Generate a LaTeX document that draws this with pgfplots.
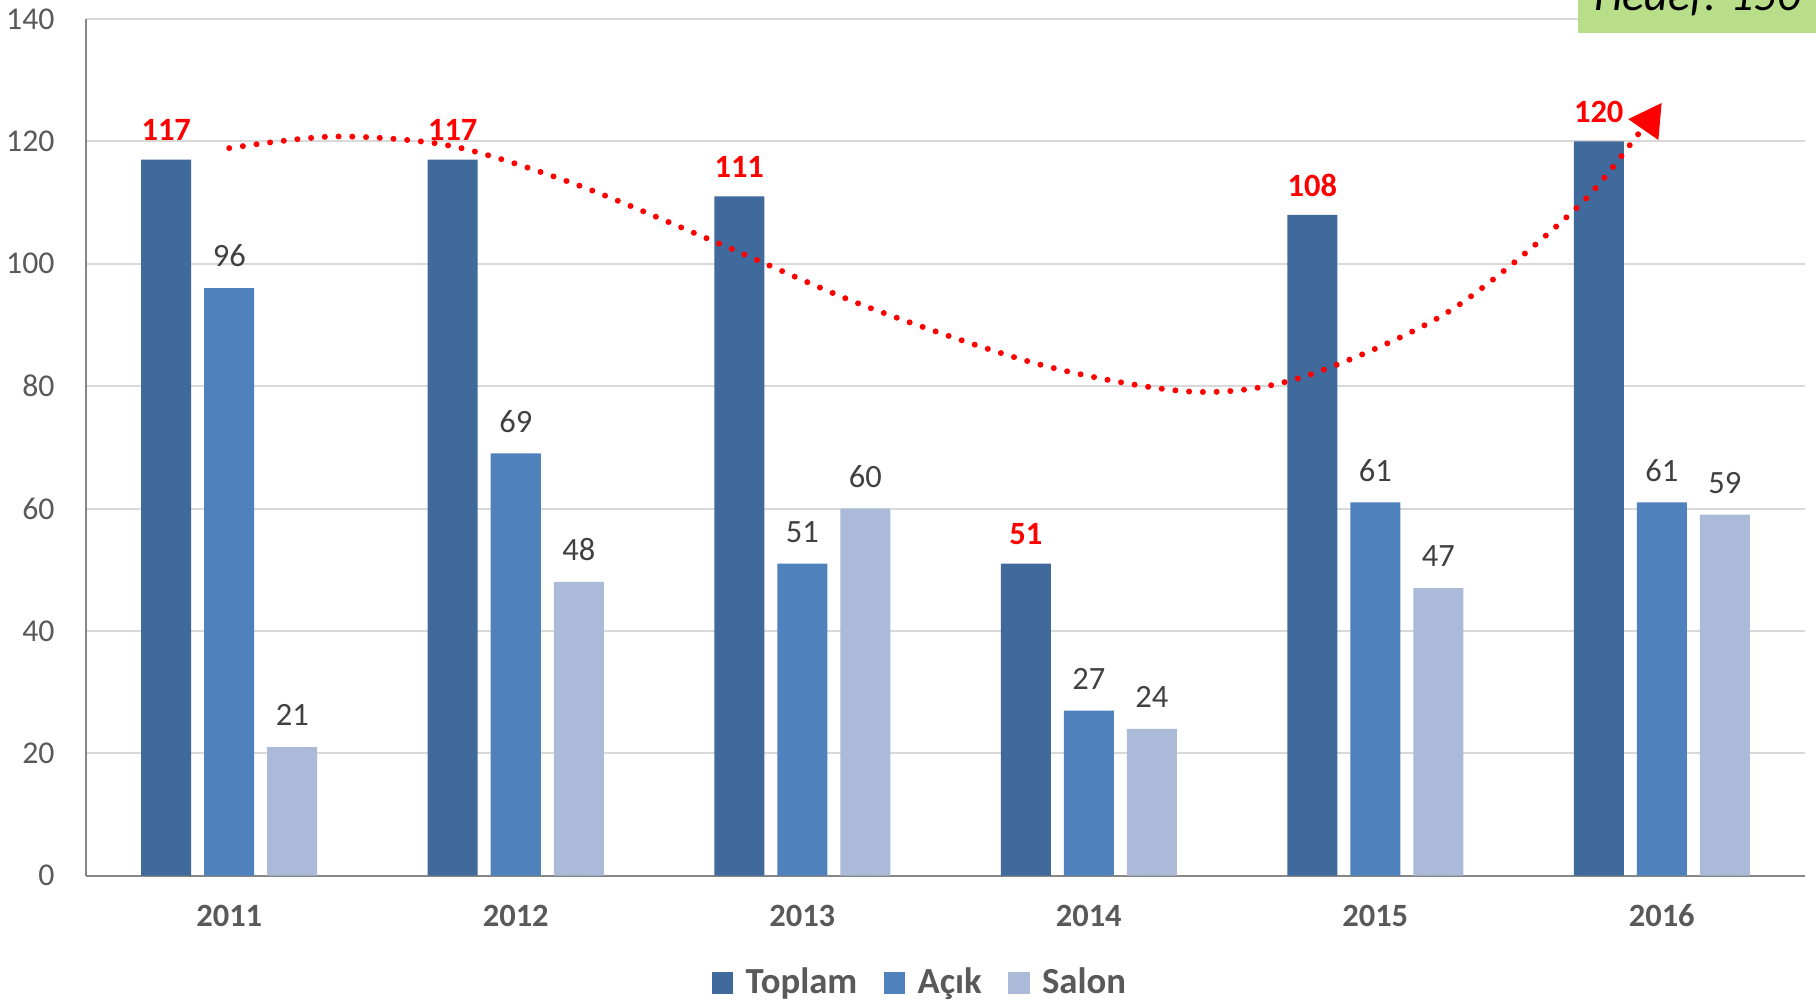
\documentclass[border=0pt]{standalone}
\usepackage{pgfplots}
\pgfplotsset{compat=1.18}
\usepackage{fontspec}
\setmainfont{Carlito}
\usetikzlibrary{arrows.meta}
\definecolor{cT}{RGB}{63,106,155}
\definecolor{cA}{RGB}{79,129,189}
\definecolor{cS}{RGB}{170,186,216}
\definecolor{gridc}{RGB}{217,217,217}
\definecolor{axc}{RGB}{134,134,134}
\definecolor{txt}{RGB}{89,89,89}
\definecolor{lbl}{RGB}{64,64,64}
\definecolor{hedef}{RGB}{184,222,138}
\begin{document}
\begin{tikzpicture}
\begin{axis}[
  at={(0,0)}, anchor=south west,
  scale only axis, width=687.6pt, height=342.7pt,
  xmin=-0.5, xmax=5.5, ymin=0, ymax=140,
  axis x line*=bottom, axis y line*=left,
  axis line style={axc, line width=0.8pt},
  ymajorgrids, grid style={gridc, line width=0.8pt},
  xtick={0,...,5}, xticklabels={2011,2012,2013,2014,2015,2016},
  ytick={0,20,...,140},
  major tick length=0pt,
  /pgf/number format/assume math mode=true,
  tick label style={font=\fontsize{12.7}{15}\selectfont, text=txt},
  xticklabel style={font=\bfseries\fontsize{13}{15}\selectfont, anchor=base, yshift=-20.5pt, inner sep=0pt},
  yticklabel style={anchor=east, inner sep=0pt, xshift=-12.4pt},
  bar width=20pt,
  legend columns=3,
  legend style={at={(0.486,-0.125)}, anchor=center, draw=none, fill=none,
    font=\bfseries\fontsize{14.7}{17}\selectfont, text=txt,
    /tikz/every odd column/.append style={column sep=3pt},
    /tikz/every even column/.append style={column sep=8.5pt}},
  legend image code/.code={\fill[#1] (0pt,-4.3pt) rectangle (8.6pt,4.3pt);},
  nodes near coords,
  nodes near coords style={anchor=base, yshift=8.5pt, inner sep=0pt, font=\fontsize{13}{15}\selectfont, text=lbl},
]
\addplot[ybar, bar shift=-25.2pt, fill=cT, draw=none,
  nodes near coords style={xshift=-25.2pt, yshift=-1pt, text=red, font=\bfseries\fontsize{13}{15}\selectfont}]
  coordinates {(0,117) (1,117) (2,111) (3,51) (4,108) (5,120)};
\addplot[ybar, bar shift=0pt, fill=cA, draw=none]
  coordinates {(0,96) (1,69) (2,51) (3,27) (4,61) (5,61)};
\addplot[ybar, bar shift=25.2pt, fill=cS, draw=none,
  nodes near coords style={xshift=25.2pt}]
  coordinates {(0,21) (1,48) (2,60) (3,24) (4,47) (5,59)};
\legend{Toplam, Açık, Salon}
\addplot[forget plot, smooth, red, line width=2.4pt, line cap=round,
  dash pattern=on 0pt off 5.5pt, no marks, nodes near coords=,
  -{Triangle[length=13pt,width=14pt]}]
  coordinates {(0,118.9) (0.37,120.8) (0.78,119.2) (1.22,112.8) (1.71,103.3) (2.23,92.9) (2.84,83.4) (3.36,79.1) (3.74,81.4) (4.25,92) (4.70,109) (4.92,121.3) (5.0,126.3)};
\end{axis}
\fill[hedef] (596.8pt,337.1pt) rectangle (740pt,380pt);
\node[anchor=base east, inner sep=0pt, font=\itshape\fontsize{18.4}{20}\selectfont] at (686pt,345.9pt) {Hedef: 150};
\pgfresetboundingbox
\path[use as bounding box] (-34.4pt,-50.1pt) rectangle (692pt,350.3pt);
\end{tikzpicture}
\end{document}
